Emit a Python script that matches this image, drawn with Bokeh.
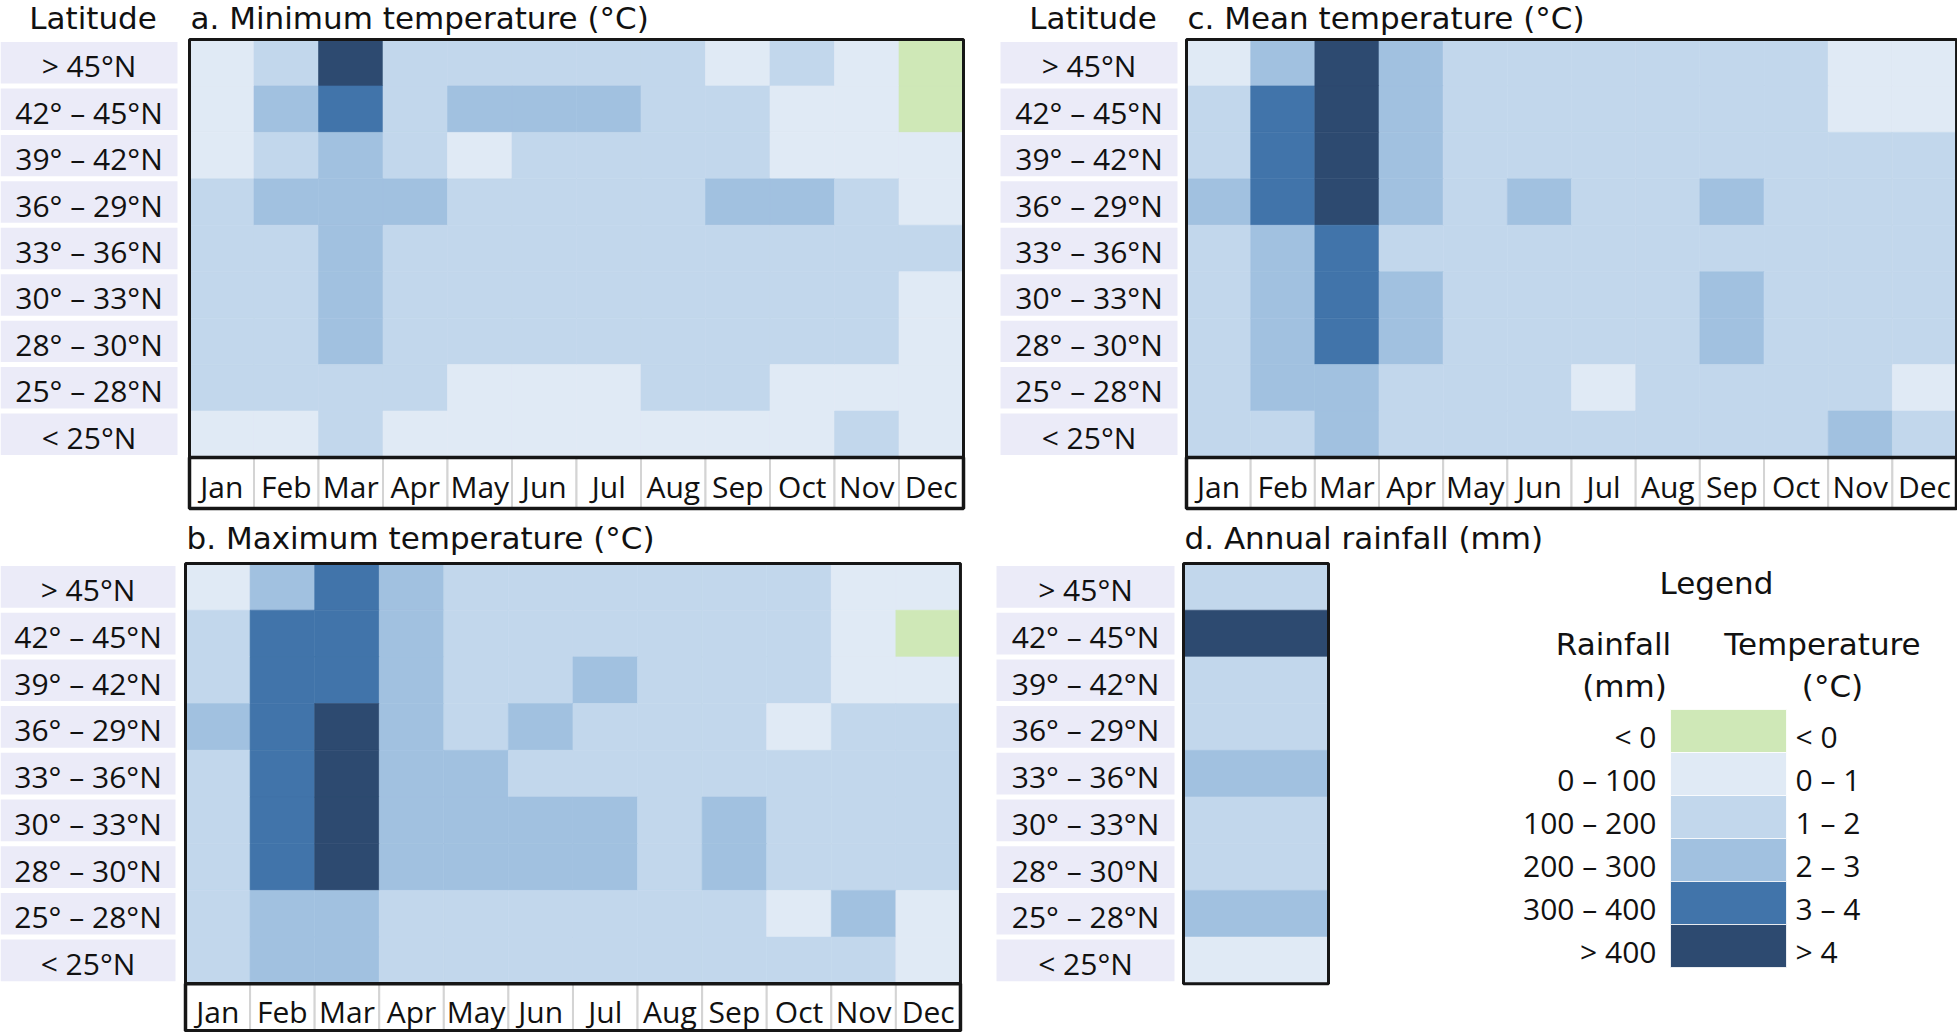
from bokeh.plotting import figure
from bokeh.layouts import row, column
from bokeh.models import Range1d
from bokeh.core.properties import value
from bokeh.embed import file_html
from bokeh.resources import INLINE

# ---------------- data ----------------
months = ["Jan", "Feb", "Mar", "Apr", "May", "Jun", "Jul", "Aug", "Sep", "Oct", "Nov", "Dec"]
latitudes = ["> 45°N", "42° – 45°N", "39° – 42°N", "36° – 29°N", "33° – 36°N",
             "30° – 33°N", "28° – 30°N", "25° – 28°N", "< 25°N"]
temp_classes = ["< 0", "0 – 1", "1 – 2", "2 – 3", "3 – 4", "> 4"]
rain_classes = ["< 0", "0 – 100", "100 – 200", "200 – 300", "300 – 400", "> 400"]
class_colors = ["#CFE8B7", "#E0EAF5", "#C2D7EC", "#A1C1E0", "#4174AA", "#2D4A70"]

# class index per cell (0: <0, 1: 0-1, 2: 1-2, 3: 2-3, 4: 3-4, 5: >4), rows = latitudes, cols = months
min_temp = [
    [1, 2, 5, 2, 2, 2, 2, 2, 1, 2, 1, 0],
    [1, 3, 4, 2, 3, 3, 3, 2, 2, 1, 1, 0],
    [1, 2, 3, 2, 1, 2, 2, 2, 2, 1, 1, 1],
    [2, 3, 3, 3, 2, 2, 2, 2, 3, 3, 2, 1],
    [2, 2, 3, 2, 2, 2, 2, 2, 2, 2, 2, 2],
    [2, 2, 3, 2, 2, 2, 2, 2, 2, 2, 2, 1],
    [2, 2, 3, 2, 2, 2, 2, 2, 2, 2, 2, 1],
    [2, 2, 2, 2, 1, 1, 1, 2, 2, 1, 1, 1],
    [1, 1, 2, 1, 1, 1, 1, 1, 1, 1, 2, 1],
]
mean_temp = [
    [1, 3, 5, 3, 2, 2, 2, 2, 2, 2, 1, 1],
    [2, 4, 5, 3, 2, 2, 2, 2, 2, 2, 1, 1],
    [2, 4, 5, 3, 2, 2, 2, 2, 2, 2, 2, 2],
    [3, 4, 5, 3, 2, 3, 2, 2, 3, 2, 2, 2],
    [2, 3, 4, 2, 2, 2, 2, 2, 2, 2, 2, 2],
    [2, 3, 4, 3, 2, 2, 2, 2, 3, 2, 2, 2],
    [2, 3, 4, 3, 2, 2, 2, 2, 3, 2, 2, 2],
    [2, 3, 3, 2, 2, 2, 1, 2, 2, 2, 2, 1],
    [2, 2, 3, 2, 2, 2, 2, 2, 2, 2, 3, 2],
]
max_temp = [
    [1, 3, 4, 3, 2, 2, 2, 2, 2, 2, 1, 1],
    [2, 4, 4, 3, 2, 2, 2, 2, 2, 2, 1, 0],
    [2, 4, 4, 3, 2, 2, 3, 2, 2, 2, 1, 1],
    [3, 4, 5, 3, 2, 3, 2, 2, 2, 1, 2, 2],
    [2, 4, 5, 3, 3, 2, 2, 2, 2, 2, 2, 2],
    [2, 4, 5, 3, 3, 3, 3, 2, 3, 2, 2, 2],
    [2, 4, 5, 3, 3, 3, 3, 2, 3, 2, 2, 2],
    [2, 3, 3, 2, 2, 2, 2, 2, 2, 1, 3, 1],
    [2, 3, 3, 2, 2, 2, 2, 2, 2, 2, 2, 1],
]
annual_rain = [2, 5, 2, 2, 3, 2, 2, 3, 1]

# ---------------- style ----------------
TITLE_FONT = value("DejaVu Sans")
LABEL_FONT = value("Open Sans")
TEXT_COLOR = "#111111"
BOX_COLOR = "#EBEBF8"
BORDER = "#161616"
SEP = "#D4D4D4"


def base_fig(W, H, x0, x1, y0, y1):
    p = figure(width=W, height=H, x_range=Range1d(x0, x1), y_range=Range1d(y0, y1),
               output_backend="svg", toolbar_location=None, min_border=0,
               x_axis_location=None, y_axis_location=None, tools="")
    p.grid.visible = False
    p.outline_line_color = None
    p.background_fill_color = "white"
    p.border_fill_color = "white"
    return p


def panel(title, grid, W, H, HL, HT, CW, RH, lab_l, lab_w, title_cy,
          col_labels=None, month_h=50, lat_header=True):
    """Positional arguments are pixel layout constants; cells sit at data indices."""
    nrow = len(latitudes)
    ncol = len(grid[0])
    y1 = nrow + HT / RH
    p = base_fig(W, H, -HL / CW, (W - HL) / CW, y1 - H / RH, y1)

    def ux(px):
        return (px - HL) / CW

    def uy(py):
        return nrow + (HT - py) / RH

    # latitude label boxes + text
    lx = ux(lab_l + lab_w / 2)
    ly = [nrow - i - 0.5 for i in range(nrow)]
    p.rect(x=[lx] * nrow, y=ly, width=lab_w / CW, height=(RH - 5) / RH,
           fill_color=BOX_COLOR, line_color=None)
    p.text(x=[lx] * nrow, y=ly, text=latitudes, text_align="center", text_baseline="middle",
           text_font=LABEL_FONT, text_font_size="30px", text_color=TEXT_COLOR, y_offset=3)

    # heat cells
    xs, ys, cs = [], [], []
    for i, r in enumerate(grid):
        for j, v in enumerate(r):
            xs.append(j + 0.5)
            ys.append(nrow - i - 0.5)
            cs.append(class_colors[v])
    p.rect(x=xs, y=ys, width=1, height=1, fill_color=cs, line_color=cs, line_width=0.6)
    p.rect(x=[ncol / 2], y=[nrow / 2], width=ncol, height=nrow, fill_color=None,
           line_color=BORDER, line_width=3)

    # month row
    if col_labels is not None:
        mh = month_h / RH
        mx = [j + 0.5 for j in range(len(col_labels))]
        p.rect(x=mx, y=[-mh / 2] * len(mx), width=1, height=mh, fill_color="white",
               line_color=SEP, line_width=2)
        p.rect(x=[ncol / 2], y=[-mh / 2], width=ncol, height=mh, fill_color=None,
               line_color=BORDER, line_width=3.5)
        p.text(x=mx, y=[-mh / 2] * len(mx), text=col_labels, text_align="center",
               text_baseline="middle", text_font=LABEL_FONT, text_font_size="30px",
               text_color=TEXT_COLOR, y_offset=4)

    # titles
    ty = uy(title_cy)
    if lat_header:
        p.text(x=[lx], y=[ty], text=["Latitude"], text_align="center", text_baseline="middle",
               text_font=TITLE_FONT, text_font_size="31px", text_color=TEXT_COLOR, x_offset=4)
    p.text(x=[0.0], y=[ty], text=[title], text_align="left", text_baseline="middle",
           text_font=TITLE_FONT, text_font_size="31px", text_color=TEXT_COLOR, x_offset=1)
    return p, ux, uy


# top row: height 514, bottom row: height 518
fig_a, _, _ = panel("a. Minimum temperature (°C)", min_temp, 980, 514, 189, 39, 64.5, 46.44,
                    0, 177, 17, col_labels=months, month_h=51)
fig_c, _, _ = panel("c. Mean temperature (°C)", mean_temp, 977, 514, 206, 39, 64.17, 46.44,
                    20, 177, 17, col_labels=months, month_h=51)
fig_b, _, _ = panel("b. Maximum temperature (°C)", max_temp, 980, 518, 185, 49, 64.58, 46.7,
                    0, 175, 23, col_labels=months, month_h=47, lat_header=False)

# panel d with legend
rain_grid = [[v] for v in annual_rain]
CWd, RHd = 145.0, 46.7
fig_d, ux, uy = panel("d. Annual rainfall (mm)", rain_grid, 977, 518, 203, 49, CWd, RHd,
                      16, 178, 23, col_labels=None, lat_header=False)

sw_top, sw_h = 195, 43
n = len(temp_classes)
sy = [uy(sw_top + sw_h * k + sw_h / 2) for k in range(n)]
fig_d.rect(x=[ux(748)] * n, y=sy, width=116 / CWd, height=sw_h / RHd,
           fill_color=class_colors, line_color="white", line_width=0.8)
fig_d.text(x=[ux(676)] * n, y=sy, text=rain_classes, text_align="right", text_baseline="middle",
           text_font=LABEL_FONT, text_font_size="30px", text_color=TEXT_COLOR, y_offset=5)
fig_d.text(x=[ux(815)] * n, y=sy, text=temp_classes, text_align="left", text_baseline="middle",
           text_font=LABEL_FONT, text_font_size="30px", text_color=TEXT_COLOR, y_offset=5)
fig_d.text(x=[ux(736), ux(633), ux(644), ux(842), ux(852)],
           y=[uy(68), uy(129), uy(171), uy(129), uy(171)],
           text=["Legend", "Rainfall", "(mm)", "Temperature", "(°C)"],
           text_align="center", text_baseline="middle",
           text_font=TITLE_FONT, text_font_size="31px", text_color=TEXT_COLOR)

layout = column(row(fig_a, fig_c), row(fig_b, fig_d))
open("out.html", "w").write(file_html(layout, INLINE, title="Temperature and rainfall"))
